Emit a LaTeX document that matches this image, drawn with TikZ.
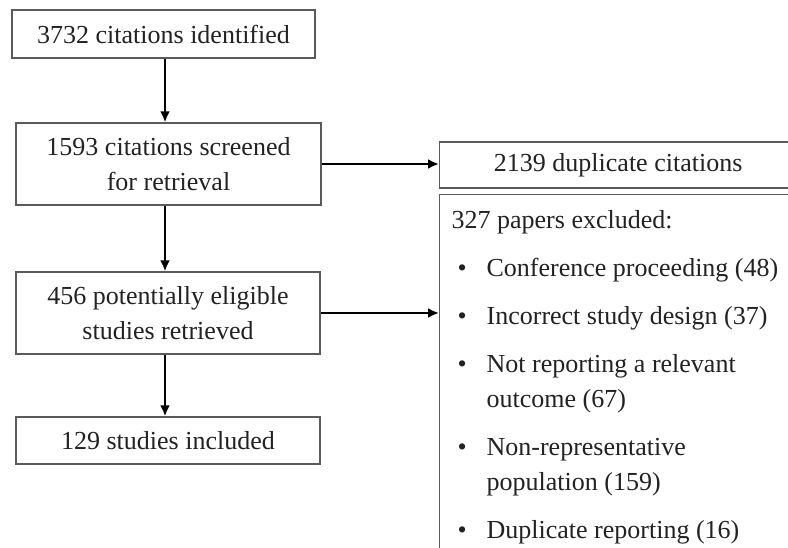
\documentclass[tikz,border=0pt]{standalone}
\usepackage{fontspec}
\setmainfont{Liberation Serif}
\usepackage{xcolor}
\usetikzlibrary{arrows.meta,positioning}
\definecolor{boxline}{HTML}{5A5A5A}
\definecolor{ink}{HTML}{222222}
\newcommand{\exitem}[1]{\hspace*{6pt}\makebox[29pt][l]{\textbullet}#1}

\begin{document}
\begin{tikzpicture}[x=1pt,y=-1pt,font=\fontsize{26}{35}\selectfont,text=ink,
  stepbox/.style={draw=boxline,line width=1.3pt,align=center,inner sep=0pt,minimum width=304pt},
  arr/.style={-{Latex[length=11pt,width=10pt]},line width=2.8pt,black}]
\useasboundingbox (0,0) rectangle (788,548);
\clip (0,0) rectangle (788,548);
\node[stepbox,minimum width=303pt,minimum height=48pt] (cit) at (163.5,34) {3732 citations identified};
\node[stepbox,minimum width=305pt,minimum height=82pt] (scr) at (168.5,164) {1593 citations screened\\for retrieval};
\node[stepbox,minimum height=82pt] (ret) at (168,313) {456 potentially eligible\\studies retrieved};
\node[stepbox,minimum height=47pt] (inc) at (168,440.5) {129 studies included};
\node[stepbox,minimum width=357pt,minimum height=46pt,anchor=west] (dup) at (439,165) {2139 duplicate citations};
\node[draw=boxline,line width=1.3pt,anchor=north west,align=flush left,text width=380pt,
      inner xsep=12pt,inner ysep=16pt] (exc) at (439,194)
  {327 papers excluded:\\[13pt]
   \exitem{Conference proceeding (48)}\\[13pt]
   \exitem{Incorrect study design (37)}\\[13pt]
   \exitem{Not reporting a relevant}\\
   \hspace*{35pt}outcome (67)\\[13pt]
   \exitem{Non-representative}\\
   \hspace*{35pt}population (159)\\[13pt]
   \exitem{Duplicate reporting (16)}\\[80pt]
   \mbox{}};
\draw[arr] (cit.south -| 165,0) -- (scr.north -| 165,0);
\draw[arr] (scr.south -| 165,0) -- (ret.north -| 165,0);
\draw[arr] (ret.south -| 165,0) -- (inc.north -| 165,0);
\draw[arr] (scr.east) -- (scr.east -| dup.west);
\draw[arr] (ret.east) -- (ret.east -| exc.west);
\end{tikzpicture}
\end{document}
